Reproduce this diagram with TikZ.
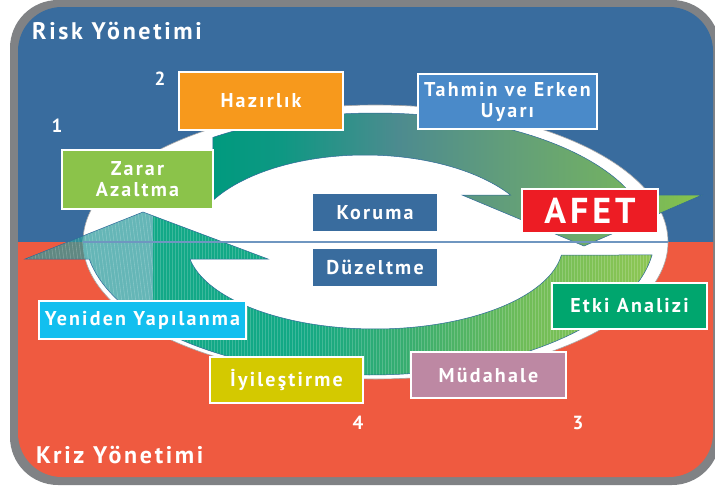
\documentclass[tikz,border=0pt]{standalone}
\usepackage{fontspec}
\setmainfont{PT Sans}[LetterSpace=11]
\definecolor{frameGray}{HTML}{808285}
\definecolor{topBlue}{HTML}{396C9E}
\definecolor{botRed}{HTML}{EF5A40}
\definecolor{bandLine}{HTML}{2F6A9A}
\definecolor{midLine}{HTML}{6F96C0}
\definecolor{cHaz}{HTML}{F7991C}
\definecolor{cTah}{HTML}{4A8AC9}
\definecolor{cZar}{HTML}{8BC34A}
\definecolor{cKor}{HTML}{396C9E}
\definecolor{cAfet}{HTML}{ED1C24}
\definecolor{cEtki}{HTML}{00A66E}
\definecolor{cMud}{HTML}{BD88A3}
\definecolor{cIyi}{HTML}{D4C900}
\definecolor{cYen}{HTML}{12BFEF}
\definecolor{uA}{HTML}{009A7E}
\definecolor{uB}{HTML}{0E9883}
\definecolor{uC}{HTML}{4D8B8F}
\definecolor{uD}{HTML}{629E7A}
\definecolor{uE}{HTML}{70AE66}
\definecolor{uF}{HTML}{86C44A}
\definecolor{lA}{HTML}{12A98A}
\definecolor{lB}{HTML}{12A985}
\definecolor{lC}{HTML}{3AAE6E}
\definecolor{lD}{HTML}{70BD58}
\definecolor{lE}{HTML}{8DC653}
\definecolor{lLeft}{HTML}{2A9A9C}
\pgfdeclarehorizontalshading{upband}{100bp}{color(0bp)=(uA); color(25bp)=(uA); color(32bp)=(uB); color(44bp)=(uC); color(55bp)=(uD); color(65bp)=(uE); color(75bp)=(uF); color(100bp)=(uF)}
\pgfdeclarehorizontalshading{lowband}{100bp}{color(0bp)=(lA); color(25bp)=(lA); color(47bp)=(lB); color(56bp)=(lC); color(65bp)=(lD); color(75bp)=(lE); color(100bp)=(lE)}
\tikzset{
  box/.style={draw=white, line width=1.5pt, text=white, inner sep=0pt, align=center, font=\fontsize{20}{21}\selectfont\bfseries},
  darkbox/.style={fill=cKor, text=white, inner sep=0pt, minimum width=124pt, font=\fontsize{20}{21}\selectfont\bfseries},
  title/.style={text=white, inner sep=0pt, font=\fontsize{24}{26}\selectfont\bfseries},
  num/.style={text=white, inner sep=0pt, font=\fontsize{19}{21}\selectfont\bfseries},
  bandedge/.style={draw=bandLine, line width=0.5pt}
}
\def\upperpath{plot[domain=126.1:20.7, samples=70, variable=\t] ({375+275*cos(\t)},{240-127*sin(\t)}) -- (702,195) -- (584,246) -- (462,195) -- plot[domain=33.7:150.3, samples=70, variable=\t] ({365+175*cos(\t)},{245-90*sin(\t)}) -- cycle}
\def\lowerpath{plot[domain=-8.21:-170.13, samples=80, variable=\t] ({370+285*cos(\t)},{235-140*sin(\t)}) -- (25,259) -- (143,212) -- (268,259) -- plot[domain=-169.83:-7.44, samples=80, variable=\t] ({375+188*cos(\t)},{244-85*sin(\t)}) -- cycle}
\begin{document}
\begin{tikzpicture}[x=1pt, y=-1pt]
\useasboundingbox (0,0) rectangle (715,485);
% frame
\fill[frameGray, rounded corners=48pt] (10,0) rectangle (720,485);
\begin{scope}
  \clip[rounded corners=44pt] (18,7) rectangle (713,477);
  \fill[topBlue] (0,0) rectangle (715,242);
  \fill[botRed] (0,242) rectangle (715,485);
\end{scope}
% white ellipse
\fill[white, draw=gray!70, line width=0.6pt] (375.5,242) ellipse [x radius=292.5, y radius=137];
% upper band
\shade[shading=upband] \upperpath;
\draw[bandedge] \upperpath;
% lower band
\begin{scope}
  \clip (0,0) rectangle (153,485);
  \fill[lLeft, opacity=0.72] \lowerpath;
\end{scope}
\begin{scope}
  \clip (153,0) rectangle (715,485);
  \shade[shading=lowband] \lowerpath;
\end{scope}
\begin{scope}
  \clip \lowerpath;
  \foreach \x in {154,157,...,655} \draw[white, opacity=0.18, line width=0.6pt] (\x,200) -- (\x,390);
  \begin{scope}
    \clip (0,0) rectangle (153,485);
    \foreach \x in {0,3.5,...,160} \draw[white, opacity=0.22, line width=0.6pt] (\x,200) -- (\x+25,390);
  \end{scope}
\end{scope}
\draw[bandedge] \lowerpath;
% middle line
\coordinate (ml) at (83,242);
\coordinate (mr) at (668,242);
\draw[midLine, line width=1.1pt] (ml) -- (mr);
% titles
\node[title, anchor=base west] (risk) at (32,39) {Risk Yönetimi};
\node[title, anchor=base west] (kriz) at (36,463) {Kriz Yönetimi};
% numbers
\node[num] (n1) at (57,126) {1};
\node[num] (n2) at (160,79) {2};
\node[num] (n3) at (578,423) {3};
\node[num] (n4) at (358,423) {4};
% boxes
\node[box, fill=cHaz, minimum width=164pt, minimum height=58pt] (haz) at (261,101) {Hazırlık};
\node[box, fill=cTah, minimum width=179pt, minimum height=55pt] (tah) at (507.5,101.5) {Tahmin ve Erken\\Uyarı};
\node[box, fill=cZar, minimum width=151pt, minimum height=59pt] (zar) at (137.5,179.5) {Zarar\\Azaltma};
\node[darkbox, minimum height=37pt] (kor) at (375,212.5) {Koruma};
\node[darkbox, minimum height=37pt] (duz) at (375,267) {Düzeltme};
\node[box, fill=cAfet, minimum width=136pt, minimum height=44pt, font=\fontsize{36}{38}\selectfont\bfseries] (afet) at (590,211) {AFET};
\node[box, fill=cEtki, minimum width=155pt, minimum height=46pt] (etki) at (629.5,306) {Etki Analizi};
\node[box, fill=cMud, minimum width=155pt, minimum height=46pt] (mud) at (488.5,375) {Müdahale};
\node[box, fill=cIyi, minimum width=153pt, minimum height=46pt] (iyi) at (286.5,380) {İyileştirme};
\node[box, fill=cYen, minimum width=207pt, minimum height=38pt] (yen) at (142.5,320) {Yeniden Yapılanma};
\end{tikzpicture}
\end{document}
